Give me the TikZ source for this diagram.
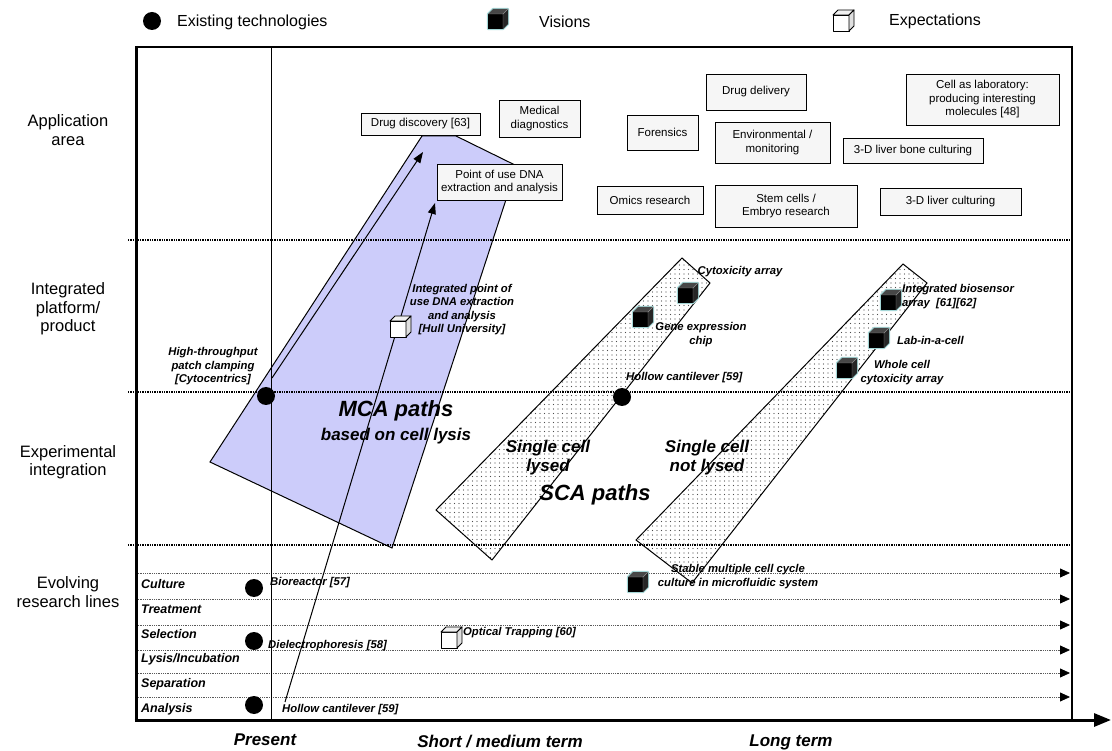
\documentclass[tikz,border=0pt]{standalone}
\usepackage{fontspec}
\setmainfont{Liberation Sans}
\usetikzlibrary{arrows.meta,patterns.meta,shadows}
\definecolor{mcablue}{RGB}{204,204,250}
\definecolor{boxfill}{RGB}{246,246,246}
\definecolor{cubeglow}{RGB}{165,215,215}
\begin{document}
\begin{tikzpicture}[x=1pt,y=-1pt,
  appbox/.style={draw, line width=0.9pt, fill=boxfill, align=center, inner sep=0pt,
     font=\fontsize{11.5}{13.5}\selectfont,
     drop shadow={shadow xshift=1.3pt, shadow yshift=-1.3pt, fill=black!55, opacity=1}},
  lbl/.style={font=\fontsize{11.3}{13.5}\selectfont\bfseries\itshape, align=center, inner sep=0pt},
  rowlbl/.style={font=\fontsize{12.5}{14}\selectfont\bfseries\itshape, anchor=west, inner sep=0pt},
  big/.style={font=\fontsize{22}{24}\selectfont\bfseries\itshape, align=center, inner sep=0pt},
  mid/.style={font=\fontsize{17}{19}\selectfont\bfseries\itshape, align=center, inner sep=0pt},
  side/.style={font=\fontsize{16.5}{18.5}\selectfont, align=center, inner sep=0pt},
  legend/.style={font=\fontsize{16}{18}\selectfont, anchor=west, inner sep=0pt},
  dotm/.style={circle, fill=black, minimum size=18pt, inner sep=0pt},
  secline/.style={line width=1.4pt, dash pattern=on 1.3pt off 1.1pt},
  resline/.style={line width=0.8pt, black!65, dash pattern=on 1pt off 0.8pt,
     -{Triangle[length=10pt,width=9pt,black]}},
  patharrow/.style={line width=1pt, -{Triangle[length=11pt,width=8pt]}},
  sca/.style={draw, line width=1pt, preaction={fill=white},
     pattern={Dots[distance=4.5pt,radius=0.6pt]}, pattern color=black!70},
  vcube/.pic={
    \draw[cubeglow, line width=2.2pt, line join=round] (-9,-5) -- (-4,-10) -- (11,-10) -- (11,5) -- (6,10) -- (-9,10) -- cycle;
    \fill[black] (-9,-5) rectangle (6,10);
    \fill[black!72] (-9,-5) -- (-4,-10) -- (11,-10) -- (6,-5) -- cycle;
    \fill[black!85] (6,-5) -- (11,-10) -- (11,5) -- (6,10) -- cycle;
    \draw[black!45, line width=0.4pt] (-9,-5) -- (6,-5) -- (11,-10) (6,-5) -- (6,10);
  },
  ecube/.pic={
    \draw[fill=white, line width=0.9pt, line join=round] (-10,-5) rectangle (6,11);
    \draw[fill=gray!12, line width=0.9pt, line join=round] (-10,-5) -- (-5,-10) -- (11,-10) -- (6,-5) -- cycle;
    \draw[fill=gray!25, line width=0.9pt, line join=round] (6,-5) -- (11,-10) -- (11,6) -- (6,11) -- cycle;
  }
]
\useasboundingbox (0,0) rectangle (1112,751);

% ---------- paths (drawn first) ----------
\draw[line width=1pt, fill=mcablue] (210,462) -- (422,136) -- (456,136) -- (517,166) -- (392,548) -- cycle;
\path[sca] (436,510) -- (682,258) -- (710,283) -- (492,560) -- cycle;
\path[sca] (636,540) -- (903,264) -- (927,283) -- (692,583) -- cycle;

% ---------- grid ----------
\draw[secline] (128,240) -- (1072,240);
\draw[secline] (128,392) -- (1072,392);
\draw[secline] (128,545) -- (1072,545);
\foreach \yy in {573,599,625,650,673,697}{
  \coordinate (rs\yy) at (136,\yy);
  \coordinate (re\yy) at (1070,\yy);
  \draw[resline] (rs\yy) -- (re\yy);
}
\draw[line width=0.8pt] (271,47) -- (271,720);
\draw[line width=2pt] (136,47) -- (1072,47) -- (1072,720);
\draw[line width=3pt] (136,46) -- (136,721.5);
\coordinate (ax0) at (134.5,720);
\coordinate (ax1) at (1111,720);
\draw[line width=3pt, -{Triangle[length=17pt,width=13pt]}] (ax0) -- (ax1);

% ---------- application boxes ----------
\node[appbox, minimum width=119pt, minimum height=22pt] (drug) at (420.5,124) {Drug discovery [63]};
\node[appbox, minimum width=81pt, minimum height=37pt] (med) at (539.5,118.5) {Medical\\diagnostics};
\node[appbox, minimum width=71pt, minimum height=35pt] (foren) at (662.5,132.5) {Forensics};
\node[appbox, minimum width=125pt, minimum height=36pt] (pou) at (499.5,182) {Point of use DNA\\extraction and analysis};
\node[appbox, minimum width=106pt, minimum height=28pt] (omics) at (650,200) {Omics research};
\node[appbox, minimum width=100pt, minimum height=36pt] (ddel) at (756,92) {Drug delivery};
\node[appbox, minimum width=115pt, minimum height=41pt] (env) at (772.5,142.5) {Environmental /\\monitoring};
\node[appbox, minimum width=153pt, minimum height=51pt] (cell) at (982.5,99.5) {Cell as laboratory:\\producing interesting\\molecules [48]};
\node[appbox, minimum width=140pt, minimum height=25pt] (bone) at (913,150.5) {3-D liver bone culturing};
\node[appbox, minimum width=142pt, minimum height=42pt] (stem) at (786,206) {Stem cells /\\Embryo research};
\node[appbox, minimum width=141pt, minimum height=27pt] (liver) at (950.5,201.5) {3-D liver culturing};

% ---------- MCA arrows ----------
\coordinate (htstart) at (272,378);
\coordinate (httip) at (423,152);
\draw[patharrow] (htstart) -- (httip);
\coordinate (hcstart) at (285,702);
\coordinate (hctip) at (435,203);
\draw[patharrow] (hcstart) -- (hctip);

% ---------- markers ----------
\node[dotm] (ht) at (266,396) {};
\node[dotm] (hcsca) at (622,397) {};
\node[dotm] (bio) at (254,588) {};
\node[dotm] (die) at (254,641) {};
\node[dotm] (hca) at (254,705) {};
\node[dotm] (legdot) at (152,21) {};

\pic (legv) at (497,19) {vcube};
\pic (cyto) at (687,293) {vcube};
\pic (gene) at (642,317) {vcube};
\pic (bios) at (890,300) {vcube};
\pic (labc) at (878,338) {vcube};
\pic (whole) at (846,368) {vcube};
\pic (stab) at (637,582) {vcube};

\pic (lege) at (843,20) {ecube};
\pic (hull) at (400,326) {ecube};
\pic (opt) at (451,637) {ecube};

% ---------- legend ----------
\node[legend] (tex) at (177,22) {Existing technologies};
\node[legend] (tvis) at (539,22) {Visions};
\node[legend] (texp) at (889,21) {Expectations};

% ---------- left labels ----------
\node[side] (l1) at (68,130) {Application\\area};
\node[side] (l2) at (68,309) {Integrated\\platform/\\product};
\node[side] (l3) at (68,462) {Experimental\\integration};
\node[side] (l4) at (68,592) {Evolving\\research lines};

% ---------- row labels ----------
\node[rowlbl] (r1) at (141,584) {Culture};
\node[rowlbl] (r2) at (141,609) {Treatment};
\node[rowlbl] (r3) at (141,634) {Selection};
\node[rowlbl] (r4) at (141,659) {Lysis/Incubation};
\node[rowlbl] (r5) at (141,684) {Separation};
\node[rowlbl] (r6) at (141,709) {Analysis};

% ---------- italic labels ----------
\node[lbl] (thtp) at (213,366.5) {High-throughput\\patch clamping\\{}[Cytocentrics]};
\node[lbl] (thull) at (462,309.5) {Integrated point of\\use DNA extraction\\and analysis\\{}[Hull University]};
\node[lbl] (tcyto) at (740,272) {Cytoxicity array};
\node[lbl] (tgene) at (701,334.5) {Gene expression\\chip};
\node[lbl, anchor=west] (thcsca) at (626,378) {Hollow cantilever [59]};
\node[lbl, anchor=west, align=left] (tbios) at (902,296.5) {Integrated biosensor\\array\ \ [61][62]};
\node[lbl, anchor=west] (tlab) at (897,340) {Lab-in-a-cell};
\node[lbl] (twhole) at (902,372.5) {Whole cell\\cytoxicity array};
\node[lbl] (tstab) at (738,576.5) {Stable multiple cell cycle\\culture in microfluidic system};
\node[lbl, anchor=west] (tbio) at (270,583) {Bioreactor [57]};
\node[lbl, anchor=west] (tdie) at (268,646) {Dielectrophoresis [58]};
\node[lbl, anchor=west] (topt) at (463,633) {Optical Trapping [60]};
\node[lbl, anchor=west] (thca) at (282,710) {Hollow cantilever [59]};

% ---------- path names ----------
\node[big] (tmca) at (396,411) {MCA paths};
\node[mid] (tmcab) at (396,436) {based on cell lysis};
\node[mid] (tlysed) at (548,458) {Single cell\\lysed};
\node[big] (tsca) at (595,495) {SCA paths};
\node[mid] (tnot) at (707,458) {Single cell\\not lysed};

% ---------- time axis labels ----------
\node[mid] (tpres) at (265,740) {Present};
\node[mid] (tshort) at (500,742) {Short / medium term};
\node[mid] (tlong) at (791,742) {Long term};
\end{tikzpicture}
\end{document}
